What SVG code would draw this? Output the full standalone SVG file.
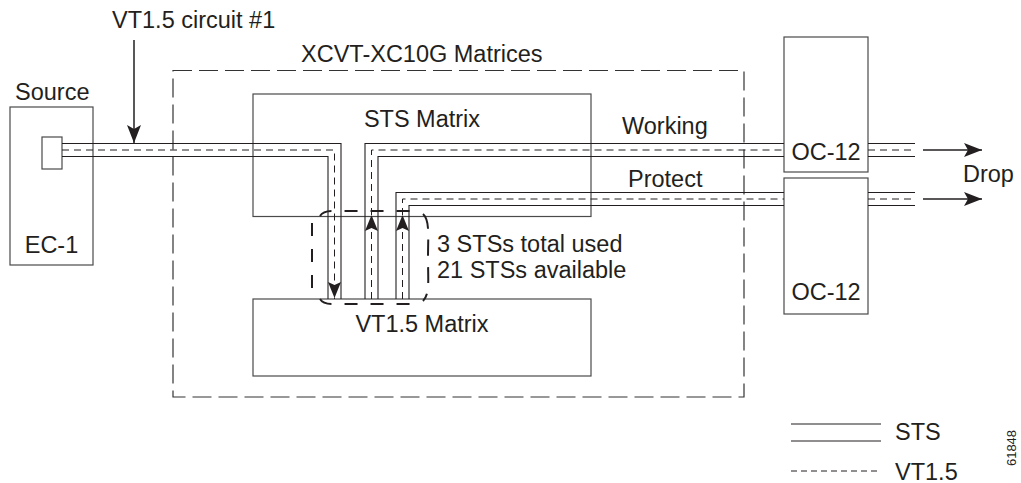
<svg xmlns="http://www.w3.org/2000/svg" xmlns:xlink="http://www.w3.org/1999/xlink" width="1021" height="483" viewBox="0 0 1021 483">
<style>
  .t { font-family: "Liberation Sans", Arial, Helvetica, sans-serif; font-size: 23.5px; fill: #231f20; }
  .box { fill: none; stroke: #4a4a4a; stroke-width: 1.2; }
  .frame { fill: none; stroke: #333; stroke-width: 1.2; stroke-dasharray: 19 7; }
  .sol { fill: none; stroke: #231f20; stroke-width: 1.1; }
  .dsh { fill: none; stroke: #231f20; stroke-width: 1; stroke-dasharray: 7 5; }
  .brk { fill: none; stroke: #231f20; stroke-width: 2; stroke-dasharray: 13 13; }
  .ptr { fill: none; stroke: #231f20; stroke-width: 1.5; }
</style>
<defs>
  <marker id="arr" markerUnits="userSpaceOnUse" markerWidth="20" markerHeight="14" refX="18" refY="7" orient="auto">
    <path d="M0,0 L18,7 L0,14 L4,7 Z" fill="#231f20"/>
  </marker>
  <path id="ah" d="M0,0 L-16,-6.5 L-13,0 L-16,6.5 Z" fill="#231f20"/>
</defs>

<text class="t" x="112" y="28">VT1.5 circuit #1</text>

<g id="xcvt">
  <rect class="frame" x="173" y="70.5" width="571" height="326.5"/>
  <text class="t" x="301" y="62">XCVT-XC10G Matrices</text>
</g>

<g id="source">
  <rect class="box" x="10" y="107" width="83" height="158"/>
  <rect class="box" x="42" y="137" width="20" height="32"/>
  <text class="t" x="15" y="100">Source</text>
  <text class="t" x="51.5" y="253" text-anchor="middle">EC-1</text>
</g>

<g id="sts-matrix">
  <rect class="box" x="253" y="94" width="338" height="122.5"/>
  <text class="t" x="422" y="127" text-anchor="middle">STS Matrix</text>
</g>

<g id="vt-matrix">
  <rect class="box" x="253" y="299" width="338" height="77"/>
  <text class="t" x="422" y="332" text-anchor="middle">VT1.5 Matrix</text>
</g>

<g id="oc12-working">
  <rect class="box" x="784" y="37" width="84" height="135"/>
  <text class="t" x="826" y="160" text-anchor="middle">OC-12</text>
</g>

<g id="oc12-protect">
  <rect class="box" x="784" y="178" width="84" height="136"/>
  <text class="t" x="826" y="300" text-anchor="middle">OC-12</text>
</g>

<g id="connectors">
  <!-- circuit pointer -->
  <path class="ptr" d="M134,40 V143" marker-end="url(#arr)"/>
  <!-- source path down to VT1.5 matrix -->
  <path class="sol" d="M62,143.5 H341 V299"/>
  <path class="dsh" d="M62,150 H334.5 V299"/>
  <path class="sol" d="M62,156.5 H328 V299"/>
  <use xlink:href="#ah" transform="translate(334.5,298) rotate(90)"/>
  <!-- working path -->
  <path class="sol" d="M365,299 V143.5 H784"/>
  <path class="dsh" d="M371.5,299 V150 H784"/>
  <path class="sol" d="M378,299 V156.5 H784"/>
  <path class="sol" d="M868,143.5 H915 M868,156.5 H915"/>
  <path class="dsh" d="M868,150 H915"/>
  <use xlink:href="#ah" transform="translate(371.5,215) rotate(-90)"/>
  <!-- protect path -->
  <path class="sol" d="M396,299 V192.5 H784"/>
  <path class="dsh" d="M402.5,299 V199 H784"/>
  <path class="sol" d="M409,299 V205.5 H784"/>
  <path class="sol" d="M868,192.5 H915 M868,205.5 H915"/>
  <path class="dsh" d="M868,199 H915"/>
  <use xlink:href="#ah" transform="translate(402.5,215) rotate(-90)"/>
  <!-- drop arrows -->
  <path class="ptr" d="M923,150 H982" marker-end="url(#arr)"/>
  <path class="ptr" d="M923,199 H982" marker-end="url(#arr)"/>
</g>

<g id="sts-usage">
  <path class="brk" d="M320,216 Q323,211 332,211 H414"/>
  <path class="brk" d="M320,299 Q323,304 332,304 H414"/>
  <path class="brk" d="M312,223 V292"/>
  <path class="brk" style="stroke-dasharray: 16 11" d="M423,214 C430,220 428,236 428,258 C428,280 430,294 423,301"/>
  <text class="t" x="437" y="252">3 STSs total used</text>
  <text class="t" x="437" y="278">21 STSs available</text>
  <text class="t" x="963" y="182">Drop</text>
  <text class="t" x="622" y="134">Working</text>
  <text class="t" x="628" y="187">Protect</text>
</g>

<g id="legend">
  <path class="sol" d="M791,424 H881 M791,441 H881"/>
  <path class="dsh" style="stroke-dasharray: 6 4" d="M791,471 H881"/>
  <text class="t" x="895" y="440">STS</text>
  <text class="t" x="895" y="480">VT1.5</text>
  <text class="t" style="font-size:13px" transform="translate(1016,448) rotate(-90)" text-anchor="middle">61848</text>
</g>
</svg>
